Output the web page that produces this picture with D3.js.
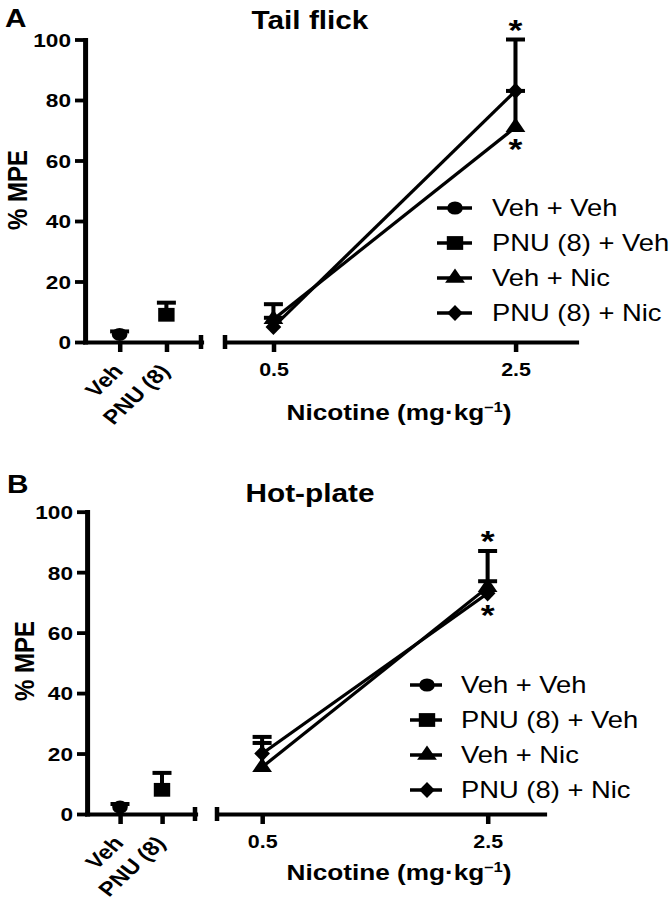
<!DOCTYPE html>
<html><head><meta charset="utf-8">
<script src="https://cdn.jsdelivr.net/npm/d3@7"></script>
<style>
html,body{margin:0;padding:0;background:#fff;}
svg{display:block;}
text{font-family:"Liberation Sans", Arial, Helvetica, sans-serif; fill:#000;}
</style></head><body>
<svg id="chart" width="670" height="900"></svg>
<script>
// ---------------- DATA ----------------
const seriesNames = ["Veh + Veh", "PNU (8) + Veh", "Veh + Nic", "PNU (8) + Nic"];
const pretreatCategories = ["Veh", "PNU (8)"];
const nicotineDoses = [0.5, 2.5];
const yTicks = [0, 20, 40, 60, 80, 100];
const doseTicks = [0.5, 2.5];
const doseDomain = [0.1, 3.0];

// Panel A: Tail flick (%MPE, mean and SEM)
const tfPretreatMeans = [2.5, 9];     // Veh + Veh at "Veh", PNU (8) + Veh at "PNU (8)"
const tfPretreatErr   = [1, 4];
const tfVehNicMeans   = [7.5, 71];
const tfVehNicErr     = [5, 12];
const tfPnuNicMeans   = [5, 83];
const tfPnuNicErr     = [3, 17];
const tfStars = [{series: "PNU (8) + Nic", dose: 2.5, side: "above"},
                 {series: "Veh + Nic", dose: 2.5, side: "below"}];

// Panel B: Hot-plate
const hpPretreatMeans = [2.3, 8];
const hpPretreatErr   = [1, 5.6];
const hpVehNicMeans   = [15.5, 75];
const hpVehNicErr     = [8, 12];
const hpPnuNicMeans   = [20, 73];
const hpPnuNicErr     = [5.5, 4];
const hpStars = [{series: "Veh + Nic", dose: 2.5, side: "above"},
                 {series: "PNU (8) + Nic", dose: 2.5, side: "below"}];

// ---------------- DRAWING ----------------
const S = 1.19;             // horizontal stretch of the original figure
const cx = v => v / S;      // screen x -> inner x
const svg = d3.select("#chart");
svg.append("rect").attr("width", 670).attr("height", 900).attr("fill", "#fff");
const root = svg.append("g").attr("transform", `scale(${S},1)`);

const diamond = {draw(ctx, size) { const r = Math.sqrt(size / 2); const rx = r * 0.82;
  ctx.moveTo(0, -r); ctx.lineTo(rx, 0); ctx.lineTo(0, r); ctx.lineTo(-rx, 0); ctx.closePath(); }};
const symbolFor = {
  "Veh + Veh": d3.symbol(d3.symbolCircle, 135)(),
  "PNU (8) + Veh": d3.symbol(d3.symbolSquare, 190)(),
  "Veh + Nic": d3.symbol(d3.symbolTriangle, 120)(),
  "PNU (8) + Nic": d3.symbol(diamond, 130)()
};

function styleAxis(a) {
  a.attr("font-family", null).attr("font-size", null);
  a.select(".domain").attr("stroke", "#000").attr("stroke-width", 4.2).attr("stroke-linecap", "square");
  a.selectAll(".tick line").attr("stroke", "#000").attr("stroke-width", 3.8);
  a.selectAll("text").attr("fill", "#000").attr("font-weight", "bold");
}

function drawPanel(p, d) {
  const g = root.append("g");
  const y = d3.scaleLinear().domain([0, 100]).range([p.y0, p.y100]);
  const xCat = d3.scalePoint().domain(pretreatCategories)
    .range([cx(p.yAxisX), cx(p.leftEnd)]).padding(p.catPad);
  const xDose = d3.scaleLinear().domain(doseDomain).range([cx(p.rightStart), cx(p.rightEnd)]);

  // y axis
  const ya = g.append("g").attr("transform", `translate(${cx(p.yAxisX)},0)`)
    .call(d3.axisLeft(y).tickValues(yTicks).tickSize(cx(10)).tickSizeOuter(0).tickPadding(cx(4)));
  styleAxis(ya);
  ya.selectAll("text").attr("font-size", 19).attr("dy", "0.36em");

  // x axis, pretreatment segment
  const xl = g.append("g").attr("transform", `translate(0,${p.y0})`)
    .call(d3.axisBottom(xCat).tickSize(10).tickSizeOuter(0));
  styleAxis(xl);
  xl.selectAll("text").attr("font-size", 20).attr("text-anchor", "end")
    .attr("x", null).attr("y", null).attr("dy", null)
    .attr("transform", `translate(${cx(4)},30) rotate(-48)`);
  xl.append("line").attr("x1", xCat.range()[1]).attr("x2", xCat.range()[1])
    .attr("y1", -7).attr("y2", 7).attr("stroke", "#000").attr("stroke-width", 3.8);

  // x axis, nicotine segment
  const xr = g.append("g").attr("transform", `translate(0,${p.y0})`)
    .call(d3.axisBottom(xDose).tickValues(doseTicks).tickFormat(d3.format(".1f"))
      .tickSize(10).tickSizeOuter(0).tickPadding(11));
  styleAxis(xr);
  xr.selectAll("text").attr("font-size", 18);
  xr.append("line").attr("x1", xDose.range()[0]).attr("x2", xDose.range()[0])
    .attr("y1", -7).attr("y2", 7).attr("stroke", "#000").attr("stroke-width", 3.8);

  // labels
  g.append("text").attr("x", cx(p.letterX)).attr("y", p.letterBase)
    .attr("font-size", 25).attr("font-weight", "bold").text(p.letter);
  g.append("text").attr("x", cx(p.titleX)).attr("y", p.titleBase).attr("text-anchor", "middle")
    .attr("font-size", 25).attr("font-weight", "bold").text(p.title);
  g.append("text").attr("transform", `translate(${cx(p.yLabelX)},${p.yLabelY}) rotate(-90)`)
    .attr("text-anchor", "middle").attr("font-size", 24).attr("font-weight", "bold").text("% MPE");
  const xt = g.append("text").attr("x", cx(p.xLabelX)).attr("y", p.xLabelBase).attr("text-anchor", "middle")
    .attr("font-size", 22).attr("font-weight", "bold");
  xt.append("tspan").text("Nicotine (mg·kg");
  xt.append("tspan").attr("font-size", 14).attr("dy", -8).text("–1");
  xt.append("tspan").attr("dy", 8).text(")");

  // data series
  const pretreat = pretreatCategories.map((c, i) => ({
    series: seriesNames[i], x: xCat(c), mean: d.pretreatMeans[i], err: d.pretreatErr[i]}));
  const doseSeries = [
    {series: "Veh + Nic", pts: nicotineDoses.map((v, i) => ({x: xDose(v), dose: v, mean: d.vehNicMeans[i], err: d.vehNicErr[i]}))},
    {series: "PNU (8) + Nic", pts: nicotineDoses.map((v, i) => ({x: xDose(v), dose: v, mean: d.pnuNicMeans[i], err: d.pnuNicErr[i]}))}
  ];
  const line = d3.line().x(q => q.x).y(q => y(q.mean));
  doseSeries.forEach(s => {
    g.append("path").attr("d", line(s.pts)).attr("fill", "none").attr("stroke", "#000").attr("stroke-width", 3);
  });
  const allPts = pretreat.map(q => ({...q})).concat(
    doseSeries.flatMap(s => s.pts.map(q => ({...q, series: s.series}))));
  const capW = cx(9.5);
  allPts.forEach(q => {
    g.append("line").attr("x1", q.x).attr("x2", q.x).attr("y1", y(q.mean)).attr("y2", y(q.mean + q.err))
      .attr("stroke", "#000").attr("stroke-width", 3.4);
    g.append("line").attr("x1", q.x - capW).attr("x2", q.x + capW)
      .attr("y1", y(q.mean + q.err)).attr("y2", y(q.mean + q.err))
      .attr("stroke", "#000").attr("stroke-width", 4);
  });
  allPts.forEach(q => {
    g.append("path").attr("d", symbolFor[q.series]).attr("fill", "#000")
      .attr("transform", `translate(${q.x},${y(q.mean)})`);
  });

  // significance stars
  d.stars.forEach(st => {
    const s = doseSeries.find(z => z.series === st.series);
    const q = s.pts.find(z => z.dose === st.dose);
    const cyv = st.side === "above" ? y(q.mean + q.err) - 14 : y(q.mean) + 17;
    g.append("text").attr("x", q.x).attr("y", cyv + 14.5).attr("text-anchor", "middle")
      .attr("font-size", 30).attr("font-weight", "bold").text("*");
  });

  // legend
  seriesNames.forEach((name, i) => {
    const ry = p.legendRowY[i];
    g.append("line").attr("x1", cx(p.legendLineX0)).attr("x2", cx(p.legendLineX1))
      .attr("y1", ry).attr("y2", ry).attr("stroke", "#000").attr("stroke-width", 3.5);
    g.append("path").attr("d", symbolFor[name]).attr("fill", "#000")
      .attr("transform", `translate(${cx(p.legendMarkerX)},${ry})`);
    g.append("text").attr("x", cx(p.legendTextX)).attr("y", ry + 8.2)
      .attr("font-size", 23).text(name);
  });
}

drawPanel({
  title: "Tail flick", letter: "A", letterX: 5, letterBase: 27, titleX: 310, titleBase: 29,
  y0: 342, y100: 39.5, yAxisX: 85, leftEnd: 201, catPad: 0.74, rightStart: 225, rightEnd: 576,
  yLabelX: 27, yLabelY: 190, xLabelX: 399, xLabelBase: 420,
  legendMarkerX: 455, legendLineX0: 437, legendLineX1: 472, legendTextX: 492,
  legendRowY: [208, 243, 278, 313]
}, {pretreatMeans: tfPretreatMeans, pretreatErr: tfPretreatErr, vehNicMeans: tfVehNicMeans,
    vehNicErr: tfVehNicErr, pnuNicMeans: tfPnuNicMeans, pnuNicErr: tfPnuNicErr, stars: tfStars});

drawPanel({
  title: "Hot-plate", letter: "B", letterX: 7, letterBase: 493, titleX: 310, titleBase: 502,
  y0: 814, y100: 511.7, yAxisX: 87, leftEnd: 195, catPad: 0.786, rightStart: 217, rightEnd: 544,
  yLabelX: 34, yLabelY: 661, xLabelX: 399, xLabelBase: 880,
  legendMarkerX: 427, legendLineX0: 410, legendLineX1: 442, legendTextX: 461,
  legendRowY: [685, 720, 755, 790]
}, {pretreatMeans: hpPretreatMeans, pretreatErr: hpPretreatErr, vehNicMeans: hpVehNicMeans,
    vehNicErr: hpVehNicErr, pnuNicMeans: hpPnuNicMeans, pnuNicErr: hpPnuNicErr, stars: hpStars});
</script>
</body></html>
